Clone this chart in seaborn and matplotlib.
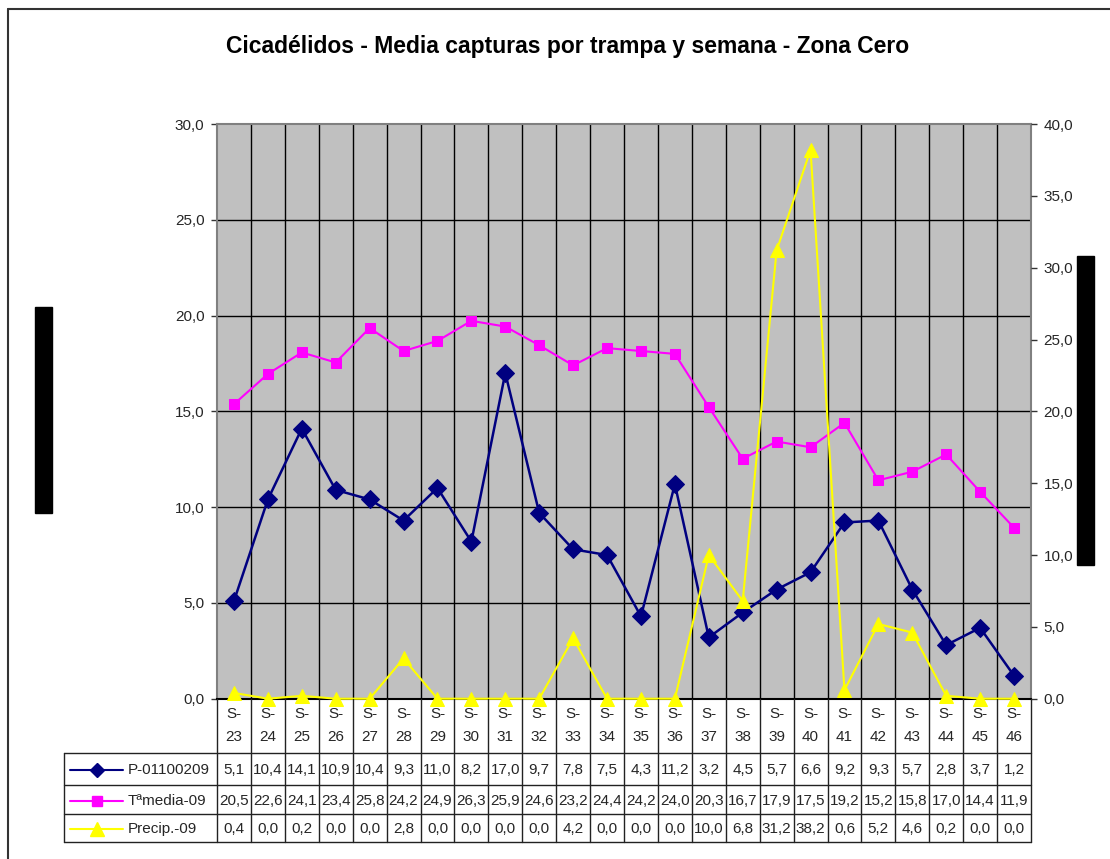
import numpy as np
import pandas as pd
import seaborn as sns
import matplotlib
matplotlib.use("Agg")
import matplotlib.pyplot as plt
from matplotlib.patches import Rectangle

weeks = list(range(23, 47))
captures = [5.1, 10.4, 14.1, 10.9, 10.4, 9.3, 11.0, 8.2, 17.0, 9.7, 7.8, 7.5,
            4.3, 11.2, 3.2, 4.5, 5.7, 6.6, 9.2, 9.3, 5.7, 2.8, 3.7, 1.2]
temp = [20.5, 22.6, 24.1, 23.4, 25.8, 24.2, 24.9, 26.3, 25.9, 24.6, 23.2, 24.4,
        24.2, 24.0, 20.3, 16.7, 17.9, 17.5, 19.2, 15.2, 15.8, 17.0, 14.4, 11.9]
precip = [0.4, 0.0, 0.2, 0.0, 0.0, 2.8, 0.0, 0.0, 0.0, 0.0, 4.2, 0.0,
          0.0, 0.0, 10.0, 6.8, 31.2, 38.2, 0.6, 5.2, 4.6, 0.2, 0.0, 0.0]
series_names = ["P-01100209", "Tªmedia-09", "Precip.-09"]

df = pd.DataFrame({"idx": np.arange(len(weeks)), "week": weeks,
                   "P": captures, "T": temp, "R": precip})

sns.set_theme(style="white")
plt.rcParams["font.family"] = ["Liberation Sans", "DejaVu Sans"]

W, H = 1110, 859
FS = 11
fig = plt.figure(figsize=(W / 100, H / 100), dpi=100)

def px_axes(x0, y0, x1, y1):
    return fig.add_axes([x0 / W, 1 - y1 / H, (x1 - x0) / W, (y1 - y0) / H])

# outer chart border
fig.add_artist(plt.Line2D([8 / W, 8 / W], [0, 1 - 9 / H], color="#333333", lw=1.5))
fig.add_artist(plt.Line2D([8 / W, 1], [1 - 9 / H, 1 - 9 / H], color="#333333", lw=1.5))

# blacked-out axis titles
fig.add_artist(Rectangle((35 / W, 1 - 513 / H), 17 / W, 206 / H, color="black"))
fig.add_artist(Rectangle((1077 / W, 1 - 565 / H), 17 / W, 309 / H, color="black"))

fig.text(568 / W, 1 - 47 / H, "Cicadélidos - Media capturas por trampa y semana - Zona Cero",
         ha="center", va="center", fontsize=16.5, fontweight="bold", color="black")

ax = px_axes(217, 124, 1031, 698.7)
ax.set_facecolor("#C0C0C0")
n = len(weeks)
ax.set_xlim(-0.5, n - 0.5)
ax.set_ylim(0, 30)
ax.set_yticks(np.arange(0, 31, 5))
ax.set_yticklabels([f"{v:.1f}".replace(".", ",") for v in np.arange(0, 31, 5)], fontsize=FS)
ax.set_xticks([])
ax.tick_params(axis="x", which="both", length=0)
ax.tick_params(axis="y", direction="out", length=4, width=1, color="#333333", pad=5, left=True)
for v in np.arange(5, 30, 5):
    ax.axhline(v, color="black", lw=1, zorder=0.5)
for v in np.arange(0.5, n - 0.5, 1):
    ax.axvline(v, color="black", lw=1, zorder=0.5)
for s in ["left", "top", "right"]:
    ax.spines[s].set_color("#808080")
    ax.spines[s].set_linewidth(1.5)
ax.spines["bottom"].set_color("black")
ax.spines["bottom"].set_linewidth(1.5)

sns.lineplot(data=df, x="idx", y="P", ax=ax, color="#000080", marker="D",
             markersize=9, markeredgecolor="#000080", lw=1.8, clip_on=False, zorder=3)
ax.set_xlabel("")
ax.set_ylabel("")

ax2 = ax.twinx()
ax2.set_ylim(0, 40)
ax2.set_yticks(np.arange(0, 41, 5))
ax2.set_yticklabels([f"{v:.1f}".replace(".", ",") for v in np.arange(0, 41, 5)], fontsize=FS)
ax2.tick_params(axis="y", direction="out", length=4, width=1, color="#333333", pad=5, right=True)
for s in ax2.spines.values():
    s.set_visible(False)
sns.lineplot(data=df, x="idx", y="T", ax=ax2, color="#FF00FF", marker="s",
             markersize=7.5, markeredgecolor="#FF00FF", lw=1.5, clip_on=False)
sns.lineplot(data=df, x="idx", y="R", ax=ax2, color="#FFFF00", marker="^",
             markersize=10.5, markeredgecolor="#FFFF00", lw=1.5, clip_on=False)
ax2.set_xlim(-0.5, n - 0.5)
ax2.set_xlabel("")
ax2.set_ylabel("")

# data table below the plot
tab = px_axes(217, 698.7, 1031, 842)
tab.set_xlim(-0.5, n - 0.5)
tab.set_ylim(143.3, 0)
tab.axis("off")
unit = (1031 - 217) / n
left = -0.5 - (217 - 64) / unit
rows_y = [54.3, 86.5, 115.3, 143.3]
lc = "#222222"
for k in range(n + 1):
    tab.plot([k - 0.5, k - 0.5], [0, 143.3], color=lc, lw=1, clip_on=False)
tab.plot([left, left], [rows_y[0], rows_y[-1]], color=lc, lw=1, clip_on=False)
for y in rows_y:
    tab.plot([left, n - 0.5], [y, y], color=lc, lw=1, clip_on=False)

for i, w in enumerate(weeks):
    tab.text(i, 15.5, "S-", ha="center", va="center", fontsize=FS)
    tab.text(i, 38.5, str(w), ha="center", va="center", fontsize=FS)

colors = ["#000080", "#FF00FF", "#FFFF00"]
markers = ["D", "s", "^"]
msizes = [7.5, 7.5, 10]
values = [captures, temp, precip]
kx0 = -0.5 - (217 - 70) / unit
kx1 = -0.5 - (217 - 123) / unit
kxm = -0.5 - (217 - 97) / unit
tx = -0.5 - (217 - 128) / unit
for r in range(3):
    yc = (rows_y[r] + rows_y[r + 1]) / 2 + 1
    tab.plot([kx0, kx1], [yc, yc], color=colors[r], lw=1.5, clip_on=False)
    tab.plot([kxm], [yc], marker=markers[r], color=colors[r], markersize=msizes[r],
             clip_on=False)
    tab.text(tx, yc, series_names[r], ha="left", va="center", fontsize=FS)
    for i, v in enumerate(values[r]):
        tab.text(i, yc, f"{v:.1f}".replace(".", ","), ha="center", va="center",
                 fontsize=FS)

fig.savefig("out.png", dpi=100, facecolor="white")
